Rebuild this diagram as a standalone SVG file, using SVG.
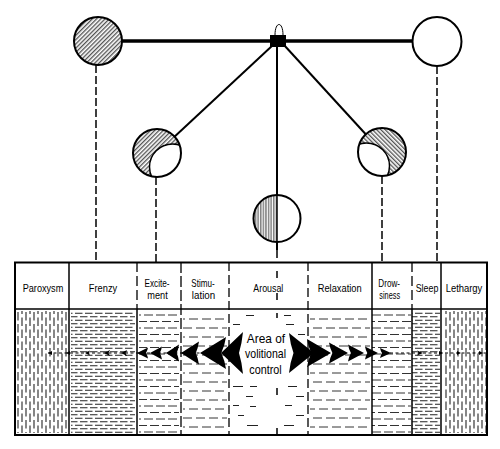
<svg xmlns="http://www.w3.org/2000/svg" width="500" height="449" viewBox="0 0 500 449">
<style>
.h{font-family:"Liberation Sans Narrow","Liberation Sans",Arial,sans-serif;font-size:11.5px;text-anchor:middle;fill:#000}
.b{font-family:"Liberation Sans Narrow","Liberation Sans",Arial,sans-serif;font-size:13px;text-anchor:middle;fill:#000}
.ol{fill:none;stroke:#000;stroke-width:2}
.wh{fill:#fff}
.drop{stroke:#000;stroke-width:1.5;stroke-dasharray:8 3;fill:none}
.solid{stroke:#000;stroke-width:1.5;fill:none}
.dash{stroke:#000;stroke-width:1.3;stroke-dasharray:9 4;fill:none}
.ad{stroke:#222;stroke-width:1}
.chev{fill:#000}
</style>
<defs>
<pattern id="hf" width="3" height="3" patternUnits="userSpaceOnUse" patternTransform="rotate(45)"><line x1="0.75" y1="0" x2="0.75" y2="3" stroke="#000" stroke-width="0.9"/></pattern>
<pattern id="hb" width="3" height="3" patternUnits="userSpaceOnUse" patternTransform="rotate(-45)"><line x1="0.75" y1="0" x2="0.75" y2="3" stroke="#000" stroke-width="0.9"/></pattern>
<pattern id="hv" width="2.6" height="3" patternUnits="userSpaceOnUse"><line x1="0.8" y1="0" x2="0.8" y2="3" stroke="#000" stroke-width="0.8"/></pattern>
<pattern id="vd" width="8" height="12" patternUnits="userSpaceOnUse"><g stroke="#222" stroke-width="1.1"><line x1="2" y1="0" x2="2" y2="8.5"/><line x1="6" y1="5.5" x2="6" y2="12"/><line x1="6" y1="0" x2="6" y2="2"/></g></pattern>
<pattern id="hd1" width="10" height="7" patternUnits="userSpaceOnUse"><g stroke="#222" stroke-width="1"><line x1="0" y1="1.75" x2="7.5" y2="1.75"/><line x1="5" y1="5.25" x2="10" y2="5.25"/><line x1="0" y1="5.25" x2="2.5" y2="5.25"/></g></pattern>
<pattern id="hd2" width="12" height="13" patternUnits="userSpaceOnUse"><g stroke="#333" stroke-width="1"><line x1="0" y1="3" x2="9" y2="3"/><line x1="6" y1="9.5" x2="12" y2="9.5"/><line x1="0" y1="9.5" x2="3" y2="9.5"/></g></pattern>
<pattern id="hd3" width="13" height="18" patternUnits="userSpaceOnUse"><g stroke="#333" stroke-width="1"><line x1="1" y1="4" x2="10" y2="4"/><line x1="7" y1="13" x2="13" y2="13"/><line x1="0" y1="13" x2="3" y2="13"/></g></pattern>
<clipPath id="cLM"><circle cx="157" cy="153" r="24"/></clipPath>
<clipPath id="cRM"><circle cx="382" cy="152" r="24"/></clipPath>
</defs>
<rect width="500" height="449" fill="#fff"/>

<g id="connectors">
<line x1="98" y1="41" x2="437" y2="41" stroke="#000" stroke-width="3.5"/>
<line x1="273" y1="45" x2="157" y2="153" stroke="#000" stroke-width="2"/>
<line x1="284" y1="45" x2="382" y2="152" stroke="#000" stroke-width="2"/>
<line x1="277" y1="47" x2="277" y2="250" stroke="#000" stroke-width="2"/>
<line class="drop" x1="96" y1="65" x2="96" y2="262"/>
<line class="drop" x1="156" y1="177" x2="156" y2="262"/>
<line class="drop" x1="382" y1="176" x2="382" y2="262"/>
<line class="drop" x1="437" y1="66" x2="437" y2="262"/>
<g stroke="#000" stroke-width="1.5">
<line x1="277" y1="250" x2="277" y2="258"/>
<line x1="277" y1="271" x2="277" y2="278"/>
<line x1="277" y1="293" x2="277" y2="300"/>
<line x1="277" y1="313" x2="277" y2="318"/>
<line x1="277" y1="388" x2="277" y2="395"/>
<line x1="277" y1="428" x2="277" y2="435"/>
</g>
</g>

<g id="pivot">
<path d="M275,35 C275,21 283,21 283,35" fill="none" stroke="#000" stroke-width="1"/>
<rect x="270" y="35" width="16" height="12" fill="#000"/>
</g>

<g id="circle-top-left">
<circle cx="98" cy="41" r="24" class="wh"/>
<circle cx="98" cy="41" r="24" fill="url(#hf)"/>
<circle cx="98" cy="41" r="24" class="ol"/>
</g>
<g id="circle-top-right">
<circle cx="437" cy="41.5" r="24.5" class="wh"/>
<circle cx="437" cy="41.5" r="24.5" class="ol"/>
</g>
<g id="circle-mid-left">
<circle cx="157" cy="153" r="24" class="wh"/>
<circle cx="157" cy="153" r="24" fill="url(#hf)"/>
<g clip-path="url(#cLM)"><circle cx="172.5" cy="167" r="23" fill="#fff" stroke="#000" stroke-width="1.5"/></g>
<circle cx="157" cy="153" r="24" class="ol"/>
</g>
<g id="circle-mid-right">
<circle cx="382" cy="152" r="24" class="wh"/>
<circle cx="382" cy="152" r="24" fill="url(#hb)"/>
<g clip-path="url(#cRM)"><circle cx="366.5" cy="166" r="23" fill="#fff" stroke="#000" stroke-width="1.5"/></g>
<circle cx="382" cy="152" r="24" class="ol"/>
</g>
<g id="circle-center">
<circle cx="277" cy="218.5" r="23.5" class="wh"/>
<path d="M277,195 A23.5,23.5 0 0 0 277,242 Z" fill="url(#hv)"/>
<line x1="277" y1="195" x2="277" y2="242" stroke="#000" stroke-width="1.5"/>
<circle cx="277" cy="218.5" r="23.5" class="ol"/>
</g>

<g id="table">
<rect x="17" y="311" width="51" height="122" fill="url(#vd)"/>
<rect x="71" y="311" width="64" height="122" fill="url(#hd1)"/>
<rect x="139" y="311" width="40" height="122" fill="url(#hd2)"/>
<rect x="183" y="311" width="44" height="122" fill="url(#hd3)"/>
<rect x="310" y="311" width="60" height="122" fill="url(#hd3)"/>
<rect x="372" y="311" width="39" height="122" fill="url(#hd2)"/>
<rect x="412" y="311" width="28" height="122" fill="url(#hd1)"/>
<rect x="443" y="311" width="43" height="122" fill="url(#vd)"/>
<g class="ad">
<line x1="246" y1="315.5" x2="254" y2="315.5"/><line x1="284" y1="315.5" x2="291" y2="315.5"/>
<line x1="233" y1="324.5" x2="240" y2="324.5"/><line x1="286" y1="324.5" x2="294" y2="324.5"/>
<line x1="298" y1="334.5" x2="305" y2="334.5"/>
<line x1="233" y1="386.5" x2="243" y2="386.5"/><line x1="250" y1="386.5" x2="257" y2="386.5"/><line x1="288" y1="386.5" x2="297" y2="386.5"/>
<line x1="246" y1="396.5" x2="253" y2="396.5"/><line x1="296" y1="396.5" x2="304" y2="396.5"/>
<line x1="233" y1="405.5" x2="239" y2="405.5"/><line x1="250" y1="406.5" x2="256" y2="406.5"/><line x1="285" y1="405.5" x2="292" y2="405.5"/>
<line x1="238" y1="415.5" x2="244" y2="415.5"/><line x1="296" y1="415.5" x2="304" y2="415.5"/>
<line x1="247" y1="425.5" x2="258" y2="425.5"/><line x1="284" y1="425.5" x2="294" y2="425.5"/>
</g>
<line class="solid" x1="15" y1="309" x2="487" y2="309"/>
<line class="solid" x1="69" y1="262" x2="69" y2="435"/>
<line class="dash" x1="137" y1="262" x2="137" y2="309" style="stroke-dasharray:10 4"/>
<line class="solid" x1="137" y1="309" x2="137" y2="435"/>
<line class="dash" x1="181" y1="262" x2="181" y2="435" style="stroke-dasharray:11 3"/>
<line class="dash" x1="229" y1="262" x2="229" y2="435"/>
<line class="dash" x1="308" y1="262" x2="308" y2="435"/>
<line class="solid" x1="372" y1="262" x2="372" y2="435"/>
<line class="dash" x1="412" y1="262" x2="412" y2="309" style="stroke-dasharray:10 4"/>
<line class="solid" x1="412" y1="309" x2="412" y2="435"/>
<line class="solid" x1="441" y1="262" x2="441" y2="435"/>
<rect x="15" y="262.5" width="472" height="172.5" fill="none" stroke="#000" stroke-width="2"/>
<text class="h" x="43" y="292" textLength="40.6" lengthAdjust="spacingAndGlyphs">Paroxysm</text>
<text class="h" x="103" y="292" textLength="28.3" lengthAdjust="spacingAndGlyphs">Frenzy</text>
<text class="h" x="157" y="287" textLength="25" lengthAdjust="spacingAndGlyphs">Excite-</text>
<text class="h" x="157.5" y="298.5" textLength="20.4" lengthAdjust="spacingAndGlyphs">ment</text>
<text class="h" x="203" y="287" textLength="23.3" lengthAdjust="spacingAndGlyphs">Stimu-</text>
<text class="h" x="203.5" y="298.5" textLength="23.3" lengthAdjust="spacingAndGlyphs">lation</text>
<text class="h" x="268.3" y="292" textLength="30" lengthAdjust="spacingAndGlyphs">Arousal</text>
<text class="h" x="339.7" y="292" textLength="44" lengthAdjust="spacingAndGlyphs">Relaxation</text>
<text class="h" x="389.2" y="287" textLength="21.7" lengthAdjust="spacingAndGlyphs">Drow-</text>
<text class="h" x="389.7" y="298.5" textLength="20.7" lengthAdjust="spacingAndGlyphs">siness</text>
<text class="h" x="427" y="292" textLength="22.7" lengthAdjust="spacingAndGlyphs">Sleep</text>
<text class="h" x="464" y="292" textLength="36.7" lengthAdjust="spacingAndGlyphs">Lethargy</text>
</g>

<g id="volitional-arrows">
<line x1="48" y1="353" x2="222" y2="353" stroke="#000" stroke-width="1" stroke-dasharray="3 2.5"/>
<line x1="390" y1="353" x2="486" y2="353" stroke="#000" stroke-width="1" stroke-dasharray="3 2.5"/>
<g class="chev">
<path d="M221,353 L243,332 Q241.9,343.55 239,353 Q241.9,362.45 243,374 Z"/>
<path d="M200,353 L226,337 Q224.7,345.8 221.3,353 Q224.7,360.2 226,369 Z"/>
<path d="M181,353 L199,341.5 Q198.1,347.8 195.8,353 Q198.1,358.2 199,364.5 Z"/>
<path d="M166,353 L179,344.5 Q178.4,349.2 176.7,353 Q178.4,356.8 179,361.5 Z"/>
<path d="M150,353 L162,346.5 Q161.4,350.1 159.8,353 Q161.4,355.9 162,359.5 Z"/>
<path d="M137,353 L148,347.5 Q147.5,350.5 146,353 Q147.5,355.5 148,358.5 Z"/>
<path d="M121,353 L127,350 L125.5,353 L127,356 Z"/>
<path d="M104,353 L110,350 L108.5,353 L110,356 Z"/>
<path d="M85,353 L90,350.5 L88.8,353 L90,355.5 Z"/>
<path d="M66,353 L70,351 L70,355 Z"/>
<path d="M48,353 L52,351 L52,355 Z"/>
<path d="M314,353 L289,333 Q290.25,344 293.5,353 Q290.25,362 289,373 Z"/>
<path d="M331,353 L307,339 Q308.2,346.7 311.3,353 Q308.2,359.3 307,367 Z"/>
<path d="M348,353 L329,342.5 Q329.95,348.3 332.4,353 Q329.95,357.7 329,363.5 Z"/>
<path d="M364,353 L348,344.5 Q348.8,349.2 350.9,353 Q348.8,356.8 348,361.5 Z"/>
<path d="M378,353 L365,346.5 Q365.65,350.1 367.3,353 Q365.65,355.9 365,359.5 Z"/>
<path d="M391,353 L380,348 Q380.55,350.75 382,353 Q380.55,355.25 380,358 Z"/>
<path d="M423,353 L417,350.5 L418.5,353 L417,355.5 Z"/>
<path d="M443,353 L439,351 L439,355 Z"/>
<path d="M461,353 L457,351 L457,355 Z"/>
<path d="M483,353 L479,351 L479,355 Z"/>
</g>
<text class="b" x="266" y="342.7" textLength="38.3" lengthAdjust="spacingAndGlyphs">Area of</text>
<text class="b" x="265.5" y="358" textLength="41" lengthAdjust="spacingAndGlyphs">volitional</text>
<text class="b" x="265.5" y="373.5" textLength="32.4" lengthAdjust="spacingAndGlyphs">control</text>
</g>
</svg>
